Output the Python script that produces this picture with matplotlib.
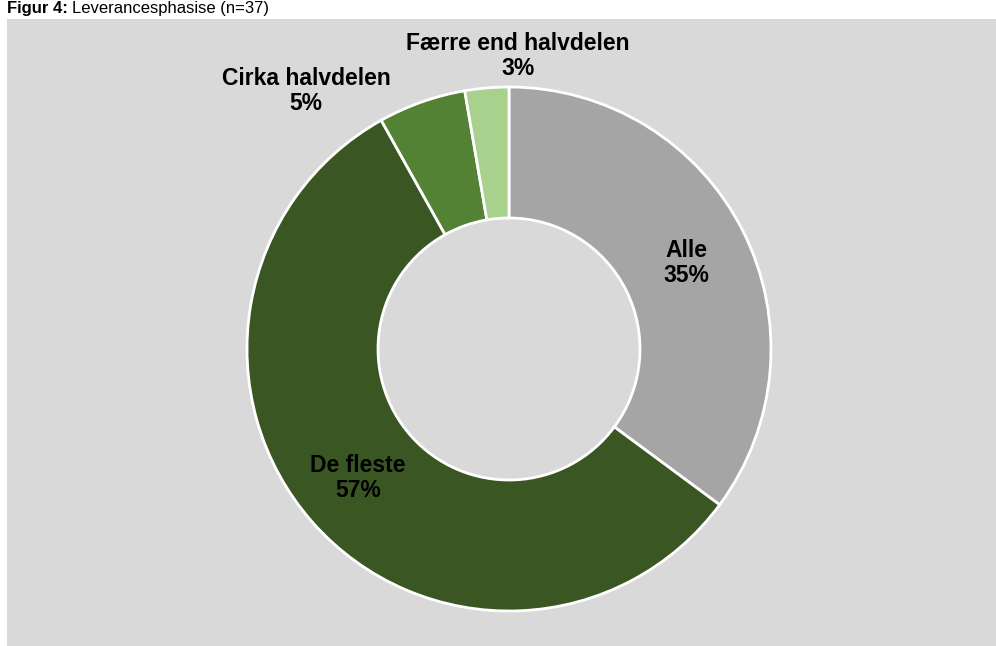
import matplotlib
matplotlib.use("Agg")
import matplotlib.pyplot as plt
from matplotlib.patches import Rectangle

plt.rcParams['font.family'] = ['Liberation Sans', 'DejaVu Sans']

categories = ["Alle", "De fleste", "Cirka halvdelen", "Færre end halvdelen"]
counts = [13, 21, 2, 1]
pct_labels = ["35%", "57%", "5%", "3%"]
colors = ["#a5a5a5", "#3a5723", "#548235", "#a9d18e"]

W, H = 996, 646
fig = plt.figure(figsize=(W / 100, H / 100), dpi=100)
fig.patch.set_facecolor("white")
fig.add_artist(Rectangle((7 / W, 0), 1 - 7 / W, (H - 19) / H,
                         transform=fig.transFigure, facecolor="#d9d9d9",
                         edgecolor="none", zorder=0))

ax = fig.add_axes([0, 0, 1, 1])
ax.axis("off")
ax.patch.set_alpha(0)

cx, cy, R = 509, H - 349, 262
ax.pie(counts, colors=colors, startangle=90, counterclock=False,
       center=(cx, cy), radius=R,
       wedgeprops=dict(width=R * 0.5, edgecolor="white", linewidth=2))
ax.set_aspect("auto")
ax.set_xlim(0, W)
ax.set_ylim(0, H)

# label positions (pixels from top-left)
label_pos = [(686, 263), (358, 478), (306, 91), (518, 56)]
for name, p, (x, y) in zip(categories, pct_labels, label_pos):
    ax.text(x, H - y, f"{name}\n{p}", ha="center", va="center",
            fontsize=16.5, fontweight="bold", color="black", linespacing=1.15)

# title in the white strip at the top
t1 = fig.text(7 / W, 1 - 1 / H, "Figur 4:", fontsize=12, fontweight="bold",
              ha="left", va="top")
fig.canvas.draw()
bb = t1.get_window_extent(fig.canvas.get_renderer())
fig.text((bb.x1 + 4) / W, 1 - 1 / H, "Leverancesphasise (n=37)", fontsize=12,
         ha="left", va="top")

fig.savefig("out.png", dpi=100, facecolor=fig.get_facecolor())
